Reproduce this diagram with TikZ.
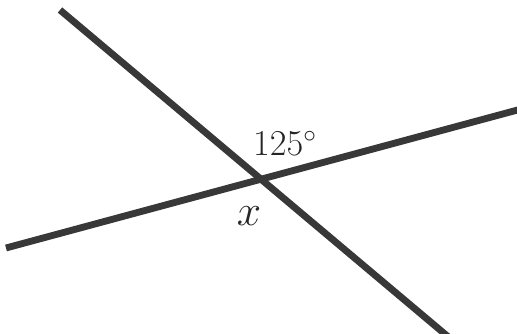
\documentclass[tikz,border=0pt]{standalone}
\usetikzlibrary{positioning}

\begin{document}
\begin{tikzpicture}[
	x=0.02cm, y=-0.02cm,
	line/.style={
		draw=black!78,
		line width=3.9pt
	},
	anglelabel/.style={
		font=\fontsize{20}{22}\selectfont,
		text=black!85,
		inner sep=0pt
	}
]

	\useasboundingbox (0,0) rectangle (517,334);
	\clip (0,0) rectangle (517,334);

	\coordinate (a1) at (60,10);
	\coordinate (a2) at (452,340);
	\coordinate (b1) at (6,248);
	\coordinate (b2) at (525,108);

	\draw[line] (a1) -- (a2);
	\draw[line] (b1) -- (b2);

	\node[anglelabel] (obtuse) at (285,143) {$125^\circ$};
	\node[anglelabel, font=\fontsize{24}{26}\selectfont] (unknown) at (249,216) {$x$};

\end{tikzpicture}
\end{document}
